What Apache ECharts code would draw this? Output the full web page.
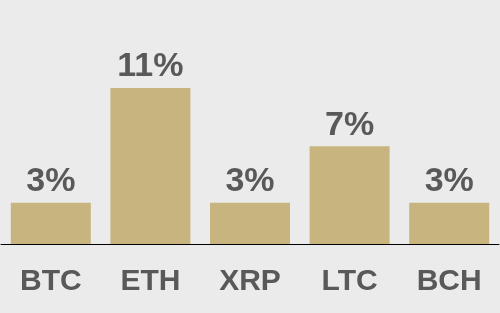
<!DOCTYPE html>
<html><head><meta charset="utf-8">
<script src="https://cdn.jsdelivr.net/npm/echarts@6/dist/echarts.min.js"></script>
<style>html,body{margin:0;padding:0;background:#ebebeb;}#c{width:500px;height:313px;}</style>
</head><body><div id="c"></div>
<script>
const categories = ["BTC", "ETH", "XRP", "LTC", "BCH"];
const values = [2.9, 11, 2.9, 6.9, 2.9];
const chart = echarts.init(document.getElementById('c'), null, {renderer: 'canvas'});
chart.setOption({
  backgroundColor: '#ebebeb',
  animation: false,
  grid: {left: 1, right: 1, top: 88, bottom: 69},
  xAxis: {
    type: 'category', data: categories,
    axisLine: {lineStyle: {color: '#000', width: 1}},
    axisTick: {show: false},
    axisLabel: {color: '#595959', fontSize: 30, fontWeight: 'bold', fontFamily: 'Liberation Sans, Arial, sans-serif', margin: 23}
  },
  yAxis: {type: 'value', min: 0, max: 11, show: false, splitLine: {show: false}},
  series: [{
    type: 'bar', data: values, barWidth: 80,
    itemStyle: {color: '#c8b47e'},
    label: {show: true, position: 'top', distance: 4, color: '#595959', fontSize: 34, fontWeight: 'bold',
      fontFamily: 'Liberation Sans, Arial, sans-serif',
      formatter: p => Math.round(p.value) + '%'}
  }]
});
</script></body></html>
